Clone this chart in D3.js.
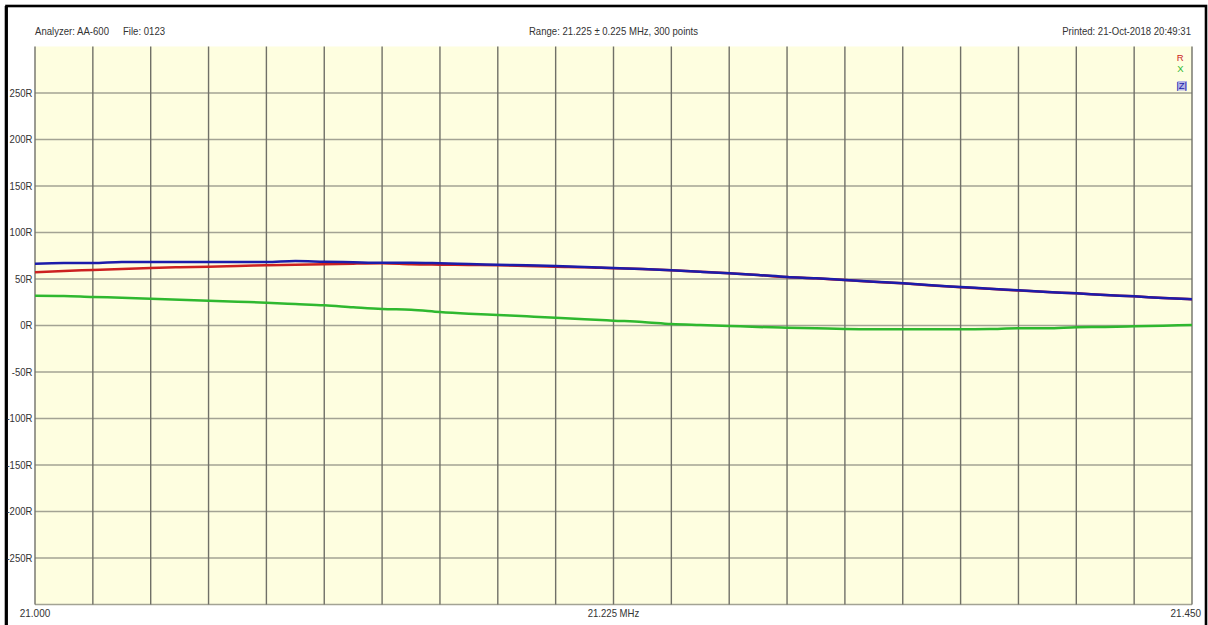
<!DOCTYPE html>
<html>
<head>
<meta charset="utf-8">
<script src="https://cdn.jsdelivr.net/npm/d3@7"></script>
<style>
  html, body { margin: 0; padding: 0; background: #ffffff; }
  svg { display: block; }
  text { font-family: "Liberation Sans", Arial, sans-serif; fill: #333; }
</style>
</head>
<body>
<svg id="chart" width="1208" height="625"></svg>
<script>
// ---- data ----
const frequencies = [
  21.00000, 21.01125, 21.02250, 21.03375, 21.04500, 21.05625, 21.06750, 21.07875,
  21.09000, 21.10125, 21.11250, 21.12375, 21.13500, 21.14625, 21.15750, 21.16875,
  21.18000, 21.19125, 21.20250, 21.21375, 21.22500, 21.23625, 21.24750, 21.25875,
  21.27000, 21.28125, 21.29250, 21.30375, 21.31500, 21.32625, 21.33750, 21.34875,
  21.36000, 21.37125, 21.38250, 21.39375, 21.40500, 21.41625, 21.42750, 21.43875,
  21.45000
];
const seriesR = [
  57.2, 58.6, 59.7, 60.8, 61.8, 62.6, 63.2, 64.0, 64.7, 65.4, 65.8, 66.5, 66.9,
  65.8, 65.4, 65.1, 64.7, 64.0, 63.2, 62.7, 61.6, 60.7, 59.4, 57.8, 56.1, 54.2,
  52.1, 50.7, 48.8, 47.0, 45.3, 43.1, 41.2, 39.4, 37.7, 35.9, 34.6, 32.8, 31.4,
  29.6, 28.2
];
const seriesX = [
  32.0, 31.7, 30.6, 29.9, 28.8, 27.7, 26.7, 25.6, 24.5, 23.1, 21.7, 19.6, 17.7,
  17.0, 14.5, 12.7, 11.3, 9.9, 8.4, 6.7, 5.2, 3.8, 1.6, 0.5, -0.5, -1.6,
  -2.4, -3.0, -3.8, -4.1, -4.1, -4.1, -4.1, -3.8, -3.0, -3.0, -1.9, -1.6, -0.9,
  -0.2, 0.5
];
const seriesZ = [
  66.5, 67.2, 67.2, 68.3, 68.3, 68.3, 68.3, 68.3, 68.3, 69.4, 68.6, 68.0, 67.5,
  67.5, 66.9, 66.1, 65.4, 64.7, 64.0, 62.9, 61.8, 60.8, 59.4, 57.8, 56.1, 54.3,
  52.2, 50.8, 48.9, 47.1, 45.4, 43.2, 41.4, 39.6, 37.8, 36.0, 34.6, 32.8, 31.4,
  29.6, 28.2
];
const yTicks = [250, 200, 150, 100, 50, 0, -50, -100, -150, -200, -250];
const yTickLabels = ["250R", "200R", "150R", "100R", "50R", "0R", "-50R", "-100R", "-150R", "-200R", "-250R"];
const xGridValues = [
  21.0000, 21.0225, 21.0450, 21.0675, 21.0900, 21.1125, 21.1350, 21.1575, 21.1800,
  21.2025, 21.2250, 21.2475, 21.2700, 21.2925, 21.3150, 21.3375, 21.3600, 21.3825,
  21.4050, 21.4275, 21.4500
];
const xTickLabels = ["21.000", "21.225 MHz", "21.450"];
const headerLeft = "Analyzer: AA-600";
const headerFile = "File: 0123";
const headerCenter = "Range: 21.225 \u00B1 0.225 MHz, 300 points";
const headerRight = "Printed: 21-Oct-2018 20:49:31";
const legendNames = ["R", "X", "|Z|"];
const legendColors = ["#cc2020", "#2fb82f", "#1c1caa"];

// ---- layout ----
const svg = d3.select("#chart");
const plot = { left: 35, right: 1192, top: 46.5, bottom: 604.5 };
const fs = 10.3;
const sx = 0.93;

const x = d3.scaleLinear().domain([21.0, 21.45]).range([plot.left, plot.right]);
const y = d3.scaleLinear().domain([-300, 300]).range([plot.bottom, plot.top]);

function label(parent, tx, ty, str, anchor, size) {
  return parent.append("text")
    .attr("transform", `translate(${tx},${ty}) scale(${sx},1)`)
    .attr("text-anchor", anchor || "start")
    .attr("font-size", size || fs)
    .text(str);
}

// outer frame
svg.append("rect")
  .attr("x", 6.5).attr("y", 6).attr("width", 1199.5).attr("height", 640)
  .attr("fill", "#ffffff").attr("stroke", "#000").attr("stroke-width", 2.6);
svg.append("line").attr("x1", 6.2).attr("x2", 6.2).attr("y1", 6).attr("y2", 625)
  .attr("stroke", "#000").attr("stroke-width", 3);

// plot background
svg.append("rect")
  .attr("x", plot.left).attr("y", plot.top)
  .attr("width", plot.right - plot.left).attr("height", plot.bottom - plot.top)
  .attr("fill", "#fefee0");

// horizontal grid
const hGrid = d3.range(-300, 251, 50);
svg.append("g").selectAll("line").data(hGrid).join("line")
  .attr("x1", plot.left).attr("x2", plot.right)
  .attr("y1", d => y(d)).attr("y2", d => y(d))
  .attr("stroke", "#a3a394").attr("stroke-width", 1.3);

// vertical grid
svg.append("g").selectAll("line").data(xGridValues).join("line")
  .attr("x1", d => x(d)).attr("x2", d => x(d))
  .attr("y1", plot.top).attr("y2", plot.bottom)
  .attr("stroke", "#707068").attr("stroke-width", 1.4);

// y labels
const gy = svg.append("g");
yTicks.forEach((d, i) => label(gy, 32.5, y(d) + 3.7, yTickLabels[i], "end"));

// x labels
label(svg, x(21.0), 617, xTickLabels[0], "middle", fs + 0.4);
label(svg, x(21.225), 617, xTickLabels[1], "middle");
label(svg, 1201, 617, xTickLabels[2], "end", fs + 0.4);

// header
label(svg, 35, 34.7, headerLeft);
label(svg, 123, 34.7, headerFile);
label(svg, 613.5, 34.7, headerCenter, "middle");
label(svg, 1191, 34.7, headerRight, "end");

// lines
const line = d3.line()
  .x((d, i) => x(frequencies[i]))
  .y(d => y(d))
  .curve(d3.curveMonotoneX);

const seriesList = [seriesX, seriesR, seriesZ];
const seriesColors = [legendColors[1], legendColors[0], legendColors[2]];
svg.append("g").selectAll("path").data(seriesList).join("path")
  .attr("d", d => line(d))
  .attr("fill", "none")
  .attr("stroke", (d, i) => seriesColors[i])
  .attr("stroke-width", 2.5)
  .attr("stroke-linejoin", "round");

// legend
const legendY = [61, 72, 89];
svg.append("rect").attr("x", 1177.5).attr("y", 81).attr("width", 9.5).attr("height", 9.5)
  .attr("fill", "#b4b4e6");
svg.append("g").selectAll("text").data(legendNames).join("text")
  .attr("x", (d, i) => i === 2 ? 1187 : 1183.5)
  .attr("y", (d, i) => legendY[i])
  .attr("text-anchor", "end")
  .attr("font-size", 9.5)
  .style("fill", (d, i) => legendColors[i])
  .text(d => d);
</script>
</body>
</html>
